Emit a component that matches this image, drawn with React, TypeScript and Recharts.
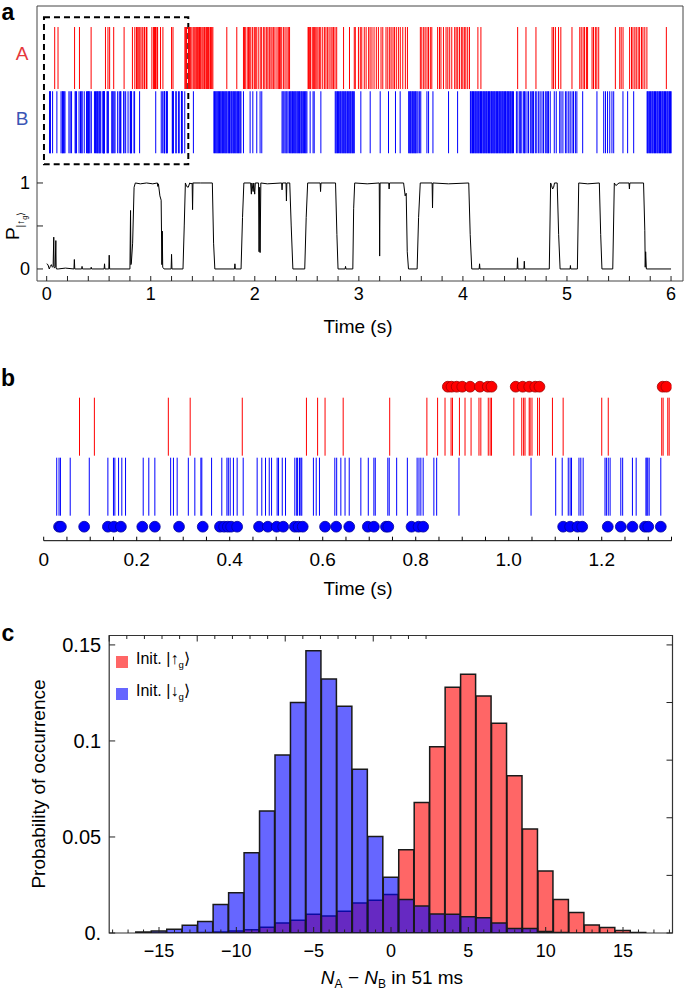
import React from "react";
import { ComposedChart, Bar, Line, Scatter, XAxis, YAxis, ReferenceArea } from "recharts";

const FONT = "'Liberation Sans', Arial, Helvetica, sans-serif";

// ---- detector clicks (s), first 1.35 s are shown again in panel b ----
const clicksAEarly = [0.077, 0.109, 0.268, 0.315, 0.427, 0.565, 0.589, 0.605, 0.644, 0.744, 0.824, 0.847, 0.863, 0.876, 0.879, 0.894, 0.906, 0.919, 0.936, 0.94, 0.956, 0.96, 0.963, 1.011, 1.028, 1.032, 1.035, 1.044, 1.046, 1.05, 1.062, 1.066, 1.094, 1.117, 1.2, 1.214, 1.329, 1.332, 1.342, 1.345];
const clicksBEarly = [0.028, 0.033, 0.036, 0.057, 0.098, 0.138, 0.15, 0.153, 0.161, 0.168, 0.176, 0.214, 0.226, 0.239, 0.273, 0.279, 0.287, 0.311, 0.325, 0.338, 0.34, 0.361, 0.383, 0.394, 0.397, 0.401, 0.408, 0.416, 0.429, 0.459, 0.469, 0.477, 0.485, 0.49, 0.502, 0.505, 0.513, 0.52, 0.54, 0.544, 0.546, 0.55, 0.553, 0.555, 0.58, 0.586, 0.593, 0.626, 0.63, 0.639, 0.648, 0.657, 0.682, 0.698, 0.71, 0.713, 0.74, 0.743, 0.759, 0.782, 0.803, 0.807, 0.811, 0.816, 0.839, 0.845, 0.893, 1.048, 1.101, 1.115, 1.128, 1.132, 1.135, 1.151, 1.155, 1.16, 1.207, 1.21, 1.214, 1.218, 1.241, 1.245, 1.266, 1.274, 1.295, 1.297, 1.299, 1.302, 1.327];
const clicksALate = [1.363, 1.372, 1.381, 1.395, 1.408, 1.417, 1.426, 1.436, 1.443, 1.451, 1.461, 1.469, 1.476, 1.483, 1.494, 1.504, 1.516, 1.523, 1.537, 1.543, 1.549, 1.556, 1.569, 1.575, 1.581, 1.588, 1.597, 1.731, 1.827, 1.891, 1.902, 1.908, 1.927, 1.94, 1.951, 1.962, 1.979, 1.995, 2.004, 2.014, 2.033, 2.052, 2.066, 2.085, 2.097, 2.114, 2.126, 2.14, 2.155, 2.166, 2.181, 2.194, 2.213, 2.226, 2.238, 2.245, 2.259, 2.277, 2.291, 2.309, 2.322, 2.334, 2.512, 2.517, 2.527, 2.536, 2.552, 2.563, 2.575, 2.586, 2.597, 2.608, 2.623, 2.634, 2.653, 2.671, 2.684, 2.7, 2.714, 2.732, 2.743, 2.757, 2.771, 2.787, 2.853, 2.91, 2.956, 2.966, 2.996, 3.014, 3.028, 3.052, 3.07, 3.094, 3.108, 3.126, 3.146, 3.168, 3.188, 3.213, 3.23, 3.261, 3.278, 3.296, 3.31, 3.328, 3.342, 3.36, 3.38, 3.398, 3.422, 3.447, 3.467, 3.591, 3.605, 3.623, 3.637, 3.655, 3.669, 3.687, 3.701, 3.757, 3.775, 3.789, 3.813, 3.838, 3.855, 3.873, 3.893, 3.921, 3.935, 3.95, 3.967, 3.985, 3.999, 4.014, 4.028, 4.046, 4.063, 4.144, 4.173, 4.526, 4.606, 4.702, 4.857, 4.871, 4.889, 4.919, 4.941, 5.048, 5.123, 5.137, 5.155, 5.169, 5.187, 5.198, 5.241, 5.255, 5.273, 5.287, 5.305, 5.465, 5.507, 5.521, 5.539, 5.602, 5.62, 5.634, 5.652, 5.666, 5.684, 5.698, 5.716, 5.73, 5.748, 5.768, 5.955];
const clicksBLate = [1.41, 1.607, 1.613, 1.624, 1.629, 1.638, 1.646, 1.65, 1.661, 1.668, 1.675, 1.684, 1.689, 1.7, 1.707, 1.716, 1.723, 1.73, 1.742, 1.746, 1.757, 1.762, 1.772, 1.778, 1.789, 1.794, 1.804, 1.812, 1.819, 1.828, 1.835, 1.844, 1.85, 1.86, 1.867, 1.891, 1.955, 1.981, 2.019, 2.051, 2.067, 2.262, 2.271, 2.28, 2.291, 2.301, 2.309, 2.32, 2.333, 2.341, 2.348, 2.357, 2.362, 2.373, 2.38, 2.389, 2.396, 2.405, 2.413, 2.419, 2.429, 2.435, 2.445, 2.451, 2.461, 2.467, 2.478, 2.485, 2.492, 2.501, 2.532, 2.56, 2.571, 2.635, 2.773, 2.78, 2.789, 2.795, 2.805, 2.812, 2.822, 2.828, 2.838, 2.845, 2.854, 2.86, 2.87, 2.876, 2.886, 2.892, 2.902, 2.908, 2.918, 2.924, 2.934, 2.94, 2.95, 2.956, 3.019, 3.109, 3.205, 3.285, 3.352, 3.397, 3.479, 3.485, 3.495, 3.501, 3.511, 3.517, 3.527, 3.533, 3.543, 3.549, 3.559, 3.569, 3.584, 3.595, 3.654, 3.67, 3.712, 3.862, 3.949, 4.072, 4.077, 4.087, 4.092, 4.102, 4.108, 4.117, 4.123, 4.133, 4.138, 4.148, 4.154, 4.163, 4.169, 4.179, 4.184, 4.194, 4.2, 4.209, 4.215, 4.225, 4.23, 4.24, 4.246, 4.255, 4.261, 4.271, 4.276, 4.286, 4.292, 4.301, 4.307, 4.317, 4.322, 4.332, 4.338, 4.347, 4.353, 4.363, 4.368, 4.378, 4.384, 4.393, 4.399, 4.409, 4.414, 4.424, 4.43, 4.439, 4.445, 4.455, 4.46, 4.47, 4.476, 4.486, 4.514, 4.528, 4.546, 4.552, 4.566, 4.584, 4.591, 4.598, 4.616, 4.63, 4.648, 4.662, 4.671, 4.678, 4.696, 4.71, 4.728, 4.742, 4.76, 4.774, 4.792, 4.806, 4.816, 4.822, 4.839, 4.878, 4.897, 4.93, 4.943, 4.961, 4.985, 4.999, 5.017, 5.031, 5.049, 5.063, 5.081, 5.095, 5.151, 5.288, 5.353, 5.37, 5.39, 5.411, 5.432, 5.449, 5.538, 5.583, 5.641, 5.77, 5.775, 5.786, 5.792, 5.802, 5.809, 5.819, 5.825, 5.835, 5.841, 5.851, 5.857, 5.867, 5.873, 5.883, 5.889, 5.899, 5.905, 5.915, 5.921, 5.931, 5.937, 5.947, 5.953, 5.963, 5.969, 5.979, 5.985, 5.995, 6.001];
// marked events in panel b
const markedA = [0.869, 0.877, 0.888, 0.9, 0.917, 0.938, 0.955, 0.963, 1.015, 1.03, 1.044, 1.057, 1.066, 1.331, 1.339];
const markedB = [0.033, 0.037, 0.087, 0.138, 0.151, 0.166, 0.212, 0.239, 0.291, 0.342, 0.379, 0.388, 0.396, 0.403, 0.416, 0.463, 0.482, 0.501, 0.515, 0.54, 0.548, 0.557, 0.605, 0.629, 0.657, 0.697, 0.71, 0.736, 0.741, 0.791, 0.806, 0.816, 1.117, 1.132, 1.148, 1.158, 1.213, 1.241, 1.266, 1.293, 1.3, 1.327];

// P|up_g> trace
const traceT = [0, 0.012, 0.025, 0.035, 0.045, 0.055, 0.062, 0.068, 0.071, 0.074, 0.082, 0.088, 0.091, 0.094, 0.11, 0.18, 0.262, 0.266, 0.27, 0.336, 0.34, 0.344, 0.424, 0.428, 0.432, 0.552, 0.556, 0.56, 0.597, 0.601, 0.605, 0.8, 0.806, 0.809, 0.813, 0.826, 0.84, 0.852, 0.9, 0.96, 1.02, 1.064, 1.068, 1.074, 1.088, 1.1, 1.107, 1.111, 1.115, 1.128, 1.196, 1.2, 1.204, 1.31, 1.322, 1.333, 1.345, 1.36, 1.375, 1.388, 1.398, 1.402, 1.406, 1.48, 1.592, 1.604, 1.616, 1.805, 1.809, 1.813, 1.868, 1.882, 1.895, 1.96, 1.967, 1.972, 1.984, 1.99, 1.999, 2.005, 2.036, 2.041, 2.046, 2.051, 2.058, 2.12, 2.258, 2.262, 2.266, 2.3, 2.304, 2.308, 2.336, 2.35, 2.366, 2.48, 2.494, 2.508, 2.628, 2.632, 2.636, 2.776, 2.789, 2.8, 2.868, 2.872, 2.876, 2.942, 2.95, 2.96, 3.08, 3.196, 3.2, 3.204, 3.287, 3.291, 3.295, 3.43, 3.445, 3.455, 3.465, 3.477, 3.56, 3.574, 3.59, 3.704, 3.708, 3.712, 3.86, 4.056, 4.07, 4.085, 4.156, 4.16, 4.164, 4.521, 4.525, 4.529, 4.586, 4.59, 4.594, 4.83, 4.843, 4.852, 4.862, 4.872, 4.88, 4.906, 4.92, 4.934, 5.03, 5.033, 5.036, 5.1, 5.113, 5.2, 5.311, 5.324, 5.336, 5.44, 5.455, 5.47, 5.5, 5.596, 5.6, 5.604, 5.736, 5.748, 5.752, 5.756, 5.763, 6];
const traceP = [0.06, 0.05, 0, 0.03, 0.05, 0.02, 0.03, 0.37, 0.03, 0.01, 0.02, 0.33, 0.02, 0, 0, 0.01, 0, 0.11, 0, 0, 0.03, 0, 0, 0.02, 0, 0, 0.06, 0, 0, 0.16, 0, 0, 0.68, 0.05, 0.06, 0.3, 0.95, 1, 0.99, 1, 0.99, 1, 0.96, 0.99, 0.85, 0.8, 0.05, 0.44, 0.02, 0, 0, 0.17, 0, 0, 0.5, 1, 0.96, 0.95, 1, 0.99, 1, 0.69, 1, 1, 1, 0.3, 0, 0, 0.06, 0, 0, 0.6, 1, 1, 0.87, 1, 0.9, 1, 0.87, 1, 1, 0.2, 0.95, 0.19, 1, 0.99, 1, 0.92, 1, 1, 0.79, 1, 1, 0.5, 0, 0, 0.6, 1, 1, 0.9, 1, 1, 0.4, 0, 0, 0.03, 0, 0, 0.7, 1, 0.99, 1, 0.15, 1, 1, 0.93, 1, 1, 0.85, 0.88, 0.2, 0, 0, 0.6, 1, 1, 0.71, 1, 0.99, 1, 0.4, 0, 0, 0.06, 0, 0, 0.13, 0, 0, 0.09, 0, 0, 1, 0.97, 0.93, 0.95, 1, 1, 0.4, 0, 0, 0.04, 0, 0, 1, 0.99, 1, 0.4, 0, 0, 1, 0.97, 1, 1, 0.93, 1, 1, 0.45, 0.02, 0.2, 0, 0];

const timeTicksA = [0, 0.2, 0.4, 0.6, 0.8, 1, 1.2, 1.4, 1.6, 1.8, 2, 2.2, 2.4, 2.6, 2.8, 3, 3.2, 3.4, 3.6, 3.8, 4, 4.2, 4.4, 4.6, 4.8, 5, 5.2, 5.4, 5.6, 5.8, 6];
const timeLabelsA = [0, 1, 2, 3, 4, 5, 6];
const pTicks = [0, 0.5, 1];
const pLabels = ["0", "", "1"];

const timeTicksB = [0, 0.05, 0.1, 0.15, 0.2, 0.25, 0.3, 0.35, 0.4, 0.45, 0.5, 0.55, 0.6, 0.65, 0.7, 0.75, 0.8, 0.85, 0.9, 0.95, 1, 1.05, 1.1, 1.15, 1.2, 1.25, 1.3, 1.35];
const timeLabelValsB = [0, 0.2, 0.4, 0.6, 0.8, 1, 1.2];
const timeLabelTextB = ["0", "0.2", "0.4", "0.6", "0.8", "1.0", "1.2"];

// ---- panel c histogram ----
const diffBins = [-16, -15, -14, -13, -12, -11, -10, -9, -8, -7, -6, -5, -4, -3, -2, -1, 0, 1, 2, 3, 4, 5, 6, 7, 8, 9, 10, 11, 12, 13, 14, 15, 16];
const probUp = [0, 0, 0, 0, 0.0002, 0.0005, 0.001, 0.0017, 0.003, 0.0052, 0.0066, 0.0097, 0.0089, 0.0113, 0.0156, 0.017, 0.02, 0.0434, 0.068, 0.097, 0.128, 0.1347, 0.1234, 0.1092, 0.0819, 0.0542, 0.0323, 0.0175, 0.0107, 0.0042, 0.0029, 0.0013, 0.0003];
const probDown = [0.0005, 0.001, 0.002, 0.004, 0.006, 0.0148, 0.021, 0.0418, 0.0635, 0.0927, 0.12, 0.147, 0.1323, 0.118, 0.0852, 0.0502, 0.029, 0.0175, 0.014, 0.0099, 0.0097, 0.0085, 0.008, 0.0052, 0.0024, 0.0023, 0.0008, 0.0003, 0, 0, 0, 0, 0];
const diffTicks = [-18, -17, -16, -15, -14, -13, -12, -11, -10, -9, -8, -7, -6, -5, -4, -3, -2, -1, 0, 1, 2, 3, 4, 5, 6, 7, 8, 9, 10, 11, 12, 13, 14, 15, 16, 17, 18];
const diffLabelVals = [-15, -10, -5, 0, 5, 10, 15];
const diffLabelText = ["\u221215", "\u221210", "\u22125", "0", "5", "10", "15"];
const probTicks = [0, 0.05, 0.1, 0.15];
const probLabels = ["0.", "0.05", "0.1", "0.15"];
const probTicksRight = [0, 0.03, 0.06, 0.09, 0.12, 0.15];

// ---- layout constants ----
const A_X: [number, number] = [-0.093, 6.115];
const A_Y: [number, number] = [-0.14, 3.058];
const A_ROW_RED = 2.453;
const A_ROW_BLUE = 1.706;
const B_X: [number, number] = [0, 1.35];
const B_Y: [number, number] = [-0.7, 7.735];
const C_X: [number, number] = [-18.22, 18.2];
const C_Y: [number, number] = [0, 0.1549];
const C_LEFT = 109.2;
const C_RIGHT = 672.5;

const near = (a: number, b: number) => Math.abs(a - b) < 1e-9;
const rows = (ts: number[], y: number) => ts.map((t) => ({ t, y }));

const spike = (color: string, half: number) => (p: any) => (
  <line x1={p.cx} x2={p.cx} y1={p.cy - half} y2={p.cy + half} stroke={color} strokeWidth={1} />
);
const dot = (fill: string, edge: string) => (p: any) => (
  <circle cx={p.cx} cy={p.cy} r={5.4} fill={fill} stroke={edge} strokeWidth={0.8} />
);

const Txt = ({ x, y, size = 18, color = "#000", bold = false, rotate = 0, children }: any) => (
  <div
    style={{
      position: "absolute", left: x, top: y, transform: `translate(-50%, -50%) rotate(${rotate}deg)`,
      fontSize: size, color, fontWeight: bold ? 700 : 400, fontFamily: FONT, whiteSpace: "nowrap", lineHeight: 1,
    }}
  >
    {children}
  </div>
);

function PanelA() {
  const trace = traceT.map((t, i) => ({ t, p: traceP[i] }));
  const red = rows([...clicksAEarly, ...clicksALate], A_ROW_RED);
  const blue = rows([...clicksBEarly, ...clicksBLate], A_ROW_BLUE);
  return (
    <ComposedChart width={685} height={335} margin={{ top: 6, right: 2, bottom: 0, left: 0 }}>
      <XAxis
        dataKey="t" type="number" domain={A_X} allowDataOverflow ticks={timeTicksA} interval={0}
        height={54} tickSize={0} tickMargin={0} tickLine={false} axisLine={false}
        tick={(p: any) => (
          <g>
            <line x1={p.x} x2={p.x} y1={p.y} y2={p.y - 5} stroke="#222" />
            {timeLabelsA.some((v) => near(v, p.payload.value)) ? (
              <text x={p.x} y={p.y + 19} textAnchor="middle" fontSize={18} fontFamily={FONT} fill="#000">{p.payload.value}</text>
            ) : null}
          </g>
        )}
      />
      <YAxis
        type="number" domain={A_Y} allowDataOverflow ticks={pTicks} interval={0} width={37}
        tickSize={0} tickMargin={0} tickLine={false} axisLine={false}
        tick={(p: any) => (
          <g>
            <line x1={p.x} x2={p.x + 6} y1={p.y} y2={p.y} stroke="#222" />
            <text x={p.x - 7} y={p.y + 6} textAnchor="end" fontSize={18} fontFamily={FONT} fill="#000">
              {pLabels[pTicks.indexOf(p.payload.value)]}
            </text>
          </g>
        )}
      />
      <ReferenceArea x1={A_X[0]} x2={A_X[1]} y1={A_Y[0]} y2={A_Y[1]} fill="none" stroke="#444" strokeWidth={1} ifOverflow="visible" />
      <Scatter data={red} dataKey="y" shape={spike("#ff0000", 31)} isAnimationActive={false} />
      <Scatter data={blue} dataKey="y" shape={spike("#0000ff", 31)} isAnimationActive={false} />
      <Line data={trace} dataKey="p" type="linear" stroke="#000" strokeWidth={1} dot={false} isAnimationActive={false} />
      <ReferenceArea x1={-0.026} x2={1.361} y1={1.217} y2={2.927} fill="none" stroke="#000" strokeWidth={2} strokeDasharray="6 4" ifOverflow="visible" />
    </ComposedChart>
  );
}

function PanelB() {
  return (
    <ComposedChart width={685} height={228} margin={{ top: 0, right: 13.5, bottom: 0, left: 43.7 }}>
      <XAxis
        dataKey="t" type="number" domain={B_X} allowDataOverflow ticks={timeTicksB} interval={0}
        height={59.3} tickSize={0} tickMargin={0} tickLine={false} axisLine={{ stroke: "#000", strokeWidth: 1 }}
        tick={(p: any) => {
          const k = timeLabelValsB.findIndex((v) => near(v, p.payload.value));
          return (
            <g>
              <line x1={p.x} x2={p.x} y1={p.y} y2={p.y - 4} stroke="#000" />
              {k >= 0 ? (
                <text x={p.x} y={p.y + 25} textAnchor="middle" fontSize={19} fontFamily={FONT} fill="#000">{timeLabelTextB[k]}</text>
              ) : null}
            </g>
          );
        }}
      />
      <YAxis hide type="number" domain={B_Y} allowDataOverflow />
      <Scatter data={rows(clicksAEarly, 5)} dataKey="y" shape={spike("#ff0000", 29)} isAnimationActive={false} />
      <Scatter data={rows(clicksBEarly, 2)} dataKey="y" shape={spike("#0000ff", 29)} isAnimationActive={false} />
      <Scatter data={rows(markedB, 0)} dataKey="y" shape={dot("#0000ff", "#00009a")} isAnimationActive={false} />
      <Scatter data={rows(markedA, 7)} dataKey="y" shape={dot("#ff0000", "#a00000")} isAnimationActive={false} />
    </ComposedChart>
  );
}

function PanelC() {
  const hist = diffBins.map((n, i) => ({ n, up: probUp[i], down: probDown[i] }));
  return (
    <ComposedChart width={685} height={393} data={hist} barCategoryGap={0} margin={{ top: 34.5, right: 11.5, bottom: 0, left: 0 }}>
      <XAxis
        dataKey="n" type="number" domain={C_X} allowDataOverflow ticks={diffTicks} interval={0}
        height={60} tickSize={0} tickMargin={0} tickLine={false} axisLine={false}
        tick={(p: any) => {
          const k = diffLabelVals.indexOf(p.payload.value);
          return (
            <g>
              <line x1={p.x} x2={p.x} y1={p.y} y2={p.y - (k >= 0 ? 6 : 3.5)} stroke="#222" />
              {k >= 0 ? (
                <text x={p.x} y={p.y + 24} textAnchor="middle" fontSize={18} fontFamily={FONT} fill="#000">{diffLabelText[k]}</text>
              ) : null}
            </g>
          );
        }}
      />
      <XAxis xAxisId="hid" dataKey="n" type="number" domain={C_X} allowDataOverflow hide />
      <XAxis
        xAxisId="top" orientation="top" type="number" domain={C_X} allowDataOverflow ticks={diffTicks} interval={0}
        height={1} tickSize={0} tickMargin={0} tickLine={false} axisLine={false}
        tick={(p: any) =>
          p.x < C_LEFT || p.x > C_RIGHT ? (
            <g />
          ) : (
            <line x1={p.x} x2={p.x} y1={p.y} y2={p.y + (diffLabelVals.indexOf(p.payload.value) >= 0 ? 6 : 3.5)} stroke="#222" />
          )
        }
      />
      <YAxis
        type="number" domain={C_Y} allowDataOverflow ticks={probTicks} interval={0} width={C_LEFT}
        tickSize={0} tickMargin={0} tickLine={false} axisLine={false}
        tick={(p: any) => (
          <g>
            <line x1={p.x} x2={p.x + 6} y1={p.y} y2={p.y} stroke="#222" />
            <text x={p.x - 8} y={p.y + 7} textAnchor="end" fontSize={20} fontFamily={FONT} fill="#000">
              {probLabels[probTicks.indexOf(p.payload.value)]}
            </text>
          </g>
        )}
      />
      <YAxis
        yAxisId="right" orientation="right" type="number" domain={C_Y} allowDataOverflow ticks={probTicksRight} interval={0}
        width={1} tickSize={0} tickMargin={0} tickLine={false} axisLine={false}
        tick={(p: any) => (p.x < C_LEFT ? <g /> : <line x1={p.x} x2={p.x - 6} y1={p.y} y2={p.y} stroke="#222" />)}
      />
      <Bar dataKey="up" fill="#ff0000" fillOpacity={0.6} stroke="#1a1a1a" strokeWidth={1.5} isAnimationActive={false} />
      <Bar dataKey="down" xAxisId="hid" fill="#0000ff" fillOpacity={0.6} stroke="#1a1a1a" strokeWidth={1.5} isAnimationActive={false} />
      <ReferenceArea x1={C_X[0]} x2={C_X[1]} y1={C_Y[0]} y2={C_Y[1]} fill="none" stroke="#333" strokeWidth={1.2} ifOverflow="visible" />
    </ComposedChart>
  );
}

const Ket = ({ arrow }: { arrow: string }) => (
  <span>
    |{arrow}<sub style={{ fontSize: "0.6em" }}>g</sub>{"\u27E9"}
  </span>
);

export default function App() {
  return (
    <div style={{ position: "absolute", left: 0, top: 0, width: 685, height: 993, background: "#fff", fontFamily: FONT }}>
      <div style={{ position: "absolute", left: 0, top: 0 }}>
        <PanelA />
      </div>
      <div style={{ position: "absolute", left: 0, top: 372 }}>
        <PanelB />
      </div>
      <div style={{ position: "absolute", left: 0, top: 600 }}>
        <PanelC />
      </div>

      <Txt x={8} y={12} size={23} bold>a</Txt>
      <Txt x={8} y={378} size={23} bold>b</Txt>
      <Txt x={8} y={633} size={23} bold>c</Txt>

      <Txt x={22} y={53} size={19} color="#e5383b">A</Txt>
      <Txt x={22} y={118} size={19} color="#3a55b5">B</Txt>
      <Txt x={13} y={226} size={19} rotate={-90}>
        P<span style={{ fontSize: 10, position: "relative", top: 5 }}>|{"\u2191"}<sub style={{ fontSize: 7 }}>g</sub>{"\u27E9"}</span>
      </Txt>
      <Txt x={358} y={326} size={19}>Time (s)</Txt>
      <Txt x={358} y={588} size={19}>Time (s)</Txt>

      <Txt x={38} y={784} size={19} rotate={-90}>Probability of occurrence</Txt>
      <Txt x={392} y={979} size={19}>
        <i>N</i><sub style={{ fontSize: 12 }}>A</sub> {"\u2212"} <i>N</i><sub style={{ fontSize: 12 }}>B</sub> in 51 ms
      </Txt>

      <div style={{ position: "absolute", left: 116, top: 652, fontFamily: FONT, fontSize: 16, lineHeight: "20px" }}>
        <div style={{ display: "flex", alignItems: "center", height: 20 }}>
          <span style={{ width: 12, height: 12, background: "#ff6666", marginRight: 8 }} />
          <span>Init. <Ket arrow={"\u2191"} /></span>
        </div>
        <div style={{ display: "flex", alignItems: "center", height: 20, marginTop: 12 }}>
          <span style={{ width: 12, height: 12, background: "#6666ff", marginRight: 8 }} />
          <span>Init. <Ket arrow={"\u2193"} /></span>
        </div>
      </div>
    </div>
  );
}
